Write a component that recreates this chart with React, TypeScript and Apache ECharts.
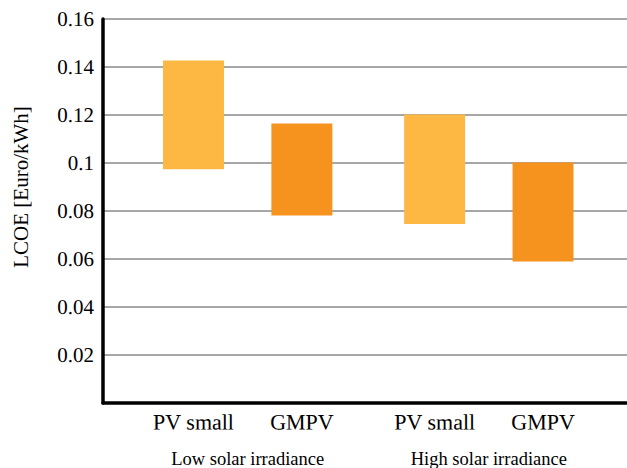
import React, { useEffect, useRef } from "react";
import * as echarts from "echarts";

const categories = ["PV small", "GMPV", "PV small", "GMPV"];
const groups = ["Low solar irradiance", "High solar irradiance"];
const lowValues = [0.0974, 0.0781, 0.0746, 0.059];
const highValues = [0.1427, 0.1165, 0.1202, 0.1002];
const yTicks = [0, 0.02, 0.04, 0.06, 0.08, 0.1, 0.12, 0.14, 0.16];

// layout (x positions on a hidden value scale)
const slotX = [0, 4, 8.9, 12.9];
const groupX = [2, 10.9];
const BAR_W = 2.25;
const COLORS = ["#FDB843", "#F6921E"];
const FONT = "Liberation Serif";
const X_MIN = -3.34;
const X_MAX = 16;
const TILT = 0.002;

export default function App() {
  const ref = useRef<HTMLDivElement>(null);
  useEffect(() => {
    const chart = echarts.init(ref.current!, null, { renderer: "svg" });
    const nearest = (arr: number[], v: number) => {
      let bi = 0;
      arr.forEach((a, i) => {
        if (Math.abs(a - v) < Math.abs(arr[bi] - v)) bi = i;
      });
      return bi;
    };
    const fmtTick = (v: number) => (v === 0 ? "" : String(+v.toFixed(2)));
    chart.setOption({
      animation: false,
      textStyle: { fontFamily: FONT },
      grid: { left: 103, right: 0, top: 19, bottom: 63, containLabel: false },
      xAxis: [
        {
          type: "value",
          min: X_MIN,
          max: X_MAX,
          axisLine: { show: true, onZero: false, lineStyle: { color: "#000", width: 3.5 } },
          axisTick: { show: false },
          splitLine: { show: false },
          axisLabel: { show: false },
        },
        {
          type: "value",
          min: X_MIN,
          max: X_MAX,
          position: "bottom",
          axisLine: { show: false },
          axisTick: { show: false },
          splitLine: { show: false },
          axisLabel: {
            customValues: groupX,
            margin: 46,
            fontFamily: FONT,
            fontSize: 18.5,
            color: "#000",
            formatter: (v: number) => groups[nearest(groupX, v)],
          },
        },
      ],
      yAxis: {
        type: "value",
        min: yTicks[0],
        max: yTicks[yTicks.length - 1],
        interval: 0.02,
        axisTick: { show: false },
        axisLine: { show: true, onZero: false, lineStyle: { color: "#000", width: 3.5 } },
        splitLine: { show: true, lineStyle: { color: "#8a8a8a", width: 1.6 } },
        axisLabel: { show: false },
      },
      graphic: [
        {
          type: "text",
          x: 21,
          y: 187,
          rotation: Math.PI / 2,
          style: {
            text: "LCOE [Euro/kWh]",
            align: "center",
            verticalAlign: "middle",
            fontFamily: FONT,
            fontSize: 21,
            fill: "#000",
          },
        },
      ],
      series: [
        {
          type: "custom",
          xAxisIndex: 0,
          yAxisIndex: 0,
          encode: { x: 0, y: [1, 2] },
          data: categories.map((_, i) => [slotX[i], lowValues[i], highValues[i]]),
          renderItem: (params: any, api: any) => {
            const x = api.value(0);
            const lo = api.coord([x, api.value(1)]);
            const hi = api.coord([x, api.value(2)]);
            const w = api.size([BAR_W, 0])[0];
            return {
              type: "rect",
              shape: { x: hi[0] - w / 2, y: hi[1], width: w, height: lo[1] - hi[1] },
              style: { fill: COLORS[params.dataIndex % 2] },
            };
          },
          z: 3,
        },
        {
          // y tick labels
          type: "custom",
          silent: true,
          clip: false,
          encode: { x: 0, y: 1 },
          data: yTicks.map((t) => [X_MIN, t]),
          renderItem: (params: any, api: any) => {
            const p = api.coord([api.value(0), api.value(1)]);
            return {
              type: "text",
              x: p[0] - 9,
              y: p[1],
              rotation: TILT,
              style: {
                text: fmtTick(yTicks[params.dataIndex]),
                align: "right",
                verticalAlign: "middle",
                fontFamily: FONT,
                fontSize: 21,
                fill: "#000",
              },
            };
          },
          z: 4,
        },
        {
          // category labels
          type: "custom",
          silent: true,
          clip: false,
          encode: { x: 0, y: 1 },
          data: categories.map((_, i) => [slotX[i], 0]),
          renderItem: (params: any, api: any) => {
            const p = api.coord([api.value(0), api.value(1)]);
            return {
              type: "text",
              x: p[0],
              y: p[1] + 8,
              rotation: TILT,
              style: {
                text: categories[params.dataIndex],
                align: "center",
                verticalAlign: "top",
                fontFamily: FONT,
                fontSize: 22,
                fill: "#000",
              },
            };
          },
          z: 4,
        },
      ],
    });
    return () => chart.dispose();
  }, []);
  return (
    <div
      ref={ref}
      style={{ position: "fixed", left: 0, top: 0, width: 627, height: 468, background: "#fff" }}
    />
  );
}
